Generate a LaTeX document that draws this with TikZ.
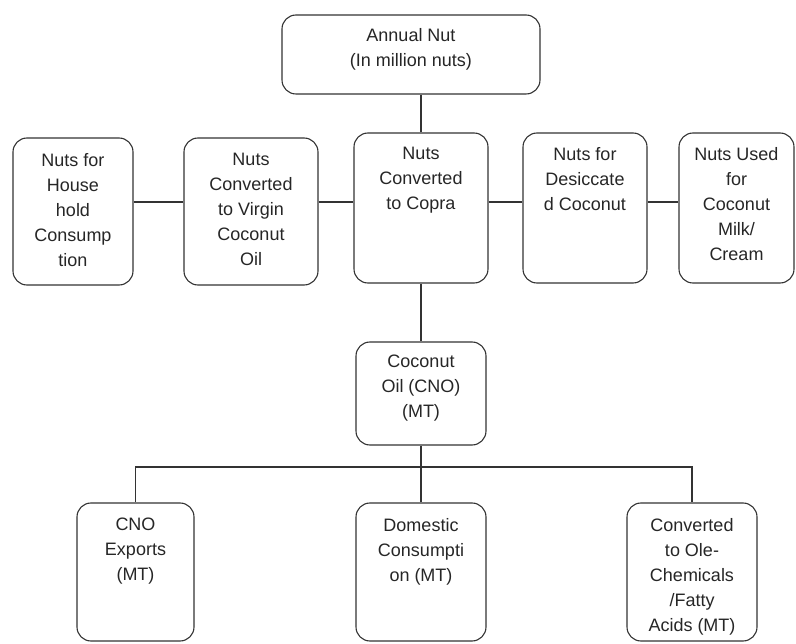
\documentclass[tikz,border=0pt]{standalone}
\usepackage{fontspec}
\setmainfont{Liberation Sans}
\usetikzlibrary{positioning}

\begin{document}
\begin{tikzpicture}[x=1pt, y=-1pt, line width=1.1pt,
    blk/.style={draw=black!80, rounded corners=14pt, inner sep=0pt},
    txt/.style={anchor=north, align=center, inner sep=0pt, text=black!85,
      font=\fontsize{18}{25}\selectfont}]
  \useasboundingbox (0,0) rectangle (796,644);
  % annual production
  \node[blk, minimum width=258, minimum height=79] (annual) at (411,54.5) {};
  \node[txt, below=13pt of annual.north] (annualtxt) {Annual Nut\\(In million nuts)};
  % row of nut uses
  \node[blk, minimum width=120, minimum height=147] (house) at (73,211.5) {};
  \node[blk, minimum width=134, minimum height=147] (vco) at (251,211.5) {};
  \node[blk, minimum width=134, minimum height=150] (copra) at (421,208) {};
  \node[blk, minimum width=124, minimum height=150] (desic) at (585,208) {};
  \node[blk, minimum width=115, minimum height=150] (milk) at (736.5,208) {};
  \node[txt, below=15pt of house.north] (housetxt) {Nuts for\\House\\hold\\Consump\\tion};
  \node[txt, below=15pt of vco.north] (vcotxt) {Nuts\\Converted\\to Virgin\\Coconut\\Oil};
  \node[txt, below=14pt of copra.north] (copratxt) {Nuts\\Converted\\to Copra};
  \node[txt, below=14pt of desic.north] (desictxt) {Nuts for\\Desiccate\\d Coconut};
  \node[txt, below=14pt of milk.north] (milktxt) {Nuts Used\\for\\Coconut\\Milk/\\Cream};
  % coconut oil
  \node[blk, minimum width=130, minimum height=103] (cno) at (421,393.5) {};
  \node[txt, below=13pt of cno.north] (cnotxt) {Coconut\\Oil (CNO)\\(MT)};
  % oil uses
  \node[blk, minimum width=117, minimum height=138] (exp) at (135.5,572) {};
  \node[blk, minimum width=130, minimum height=138] (dom) at (421,572) {};
  \node[blk, minimum width=130, minimum height=138] (conv) at (692,572) {};
  \node[txt, below=15pt of exp.north] (exptxt) {CNO\\Exports\\(MT)};
  \node[txt, below=15pt of dom.north] (domtxt) {Domestic\\Consumpti\\on (MT)};
  \node[txt, below=15pt of conv.north] (convtxt) {Converted\\to Ole-\\Chemicals\\/Fatty\\Acids (MT)};
  % connectors
  \coordinate (row) at (0,202);
  \coordinate (bus) at (421,467);
  \draw[black!80] (copra.north |- annual.south) -- (copra.north);
  \draw[black!80] (house.east |- row) -- (vco.west |- row);
  \draw[black!80] (vco.east |- row) -- (copra.west |- row);
  \draw[black!80] (copra.east |- row) -- (desic.west |- row);
  \draw[black!80] (desic.east |- row) -- (milk.west |- row);
  \draw[black!80] (copra.south) -- (cno.north);
  \draw[black!80] (cno.south) -- (dom.north);
  \draw[black!80] (exp.north) |- (bus) -| (conv.north);
\end{tikzpicture}
\end{document}
